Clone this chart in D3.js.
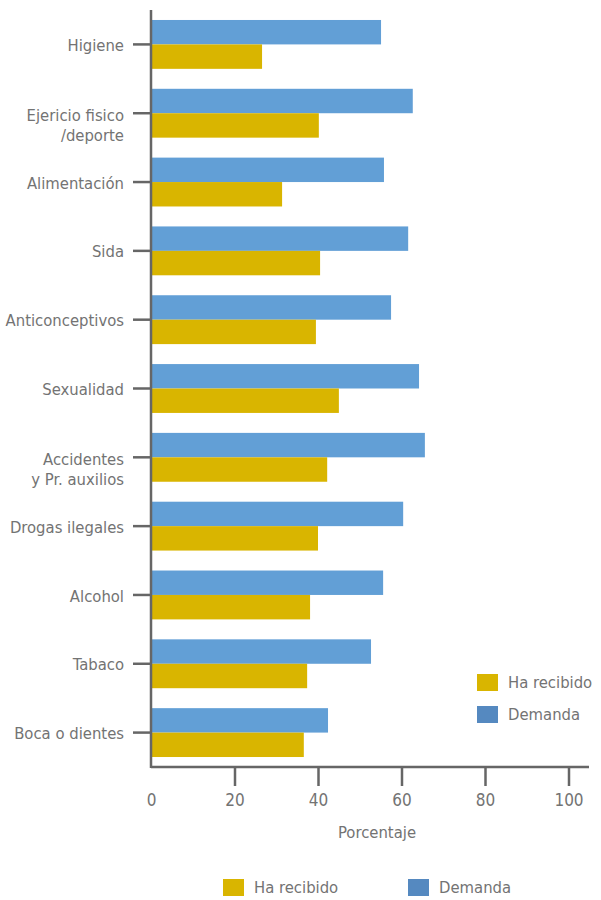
<!DOCTYPE html>
<html>
<head>
<meta charset="utf-8">
<script src="https://cdn.jsdelivr.net/npm/d3@7"></script>
<style>
  html, body { margin: 0; padding: 0; background: #fff; }
  svg text { font-family: "Liberation Sans Narrow", "DejaVu Sans Condensed", "Roboto", sans-serif; fill: #737373; }
</style>
</head>
<body>
<div id="chart"></div>
<script>
// Temas de salud: información recibida frente a demanda (%)
const categories = [
  "Higiene",
  "Ejericio fisico\n/deporte",
  "Alimentación",
  "Sida",
  "Anticonceptivos",
  "Sexualidad",
  "Accidentes\ny Pr. auxilios",
  "Drogas ilegales",
  "Alcohol",
  "Tabaco",
  "Boca o dientes"
];
const demanda    = [55.1, 62.7, 55.8, 61.6, 57.5, 64.2, 65.6, 60.4, 55.6, 52.7, 42.4];
const haRecibido = [26.6, 40.2, 31.4, 40.5, 39.5, 45.0, 42.2, 40.0, 38.1, 37.4, 36.6];
const xTicks = [0, 20, 40, 60, 80, 100];
const seriesNames = ["Demanda", "Ha recibido"];

const W = 601, H = 900;
const mLeft = 151, mRight = 568.5, mTop = 10, mBottom = 767;
const colors = { "Demanda": "#629fd6", "Ha recibido": "#d9b500" };
const legendColors = { "Demanda": "#5589c0", "Ha recibido": "#d9b500" };
const axisColor = "#666";
const fs = 16.5;

const svg = d3.select("#chart").append("svg")
  .attr("width", W).attr("height", H);

const x = d3.scaleLinear().domain([0, 100]).range([mLeft, mRight]);
const y = d3.scaleBand().domain(categories).range([mTop, mBottom])
  .paddingInner(0.29).paddingOuter(0.145);
const ySub = d3.scaleBand().domain(seriesNames).range([0, y.bandwidth()]);

const rows = categories.map((c, i) => ({ cat: c, "Demanda": demanda[i], "Ha recibido": haRecibido[i] }));

// Bars
const groups = svg.append("g").selectAll("g").data(rows).join("g")
  .attr("transform", d => `translate(0,${y(d.cat)})`);
groups.selectAll("rect").data(d => seriesNames.map(s => ({ s, v: d[s] }))).join("rect")
  .attr("x", x(0))
  .attr("y", d => ySub(d.s))
  .attr("width", d => x(d.v) - x(0))
  .attr("height", ySub.bandwidth())
  .attr("fill", d => colors[d.s]);

// X axis
const xAxis = svg.append("g").attr("transform", `translate(0,${mBottom})`)
  .call(d3.axisBottom(x).tickValues(xTicks).tickSize(19).tickPadding(8).tickSizeOuter(0));
xAxis.select(".domain").attr("d", `M${mLeft},0H589`).attr("stroke", axisColor).attr("stroke-width", 2.5);
xAxis.selectAll(".tick line").attr("stroke", axisColor).attr("stroke-width", 2.5)
  .filter(d => d === 0).remove();
xAxis.selectAll(".tick text").attr("font-size", fs + 0.5).attr("fill", "#737373")
  .style("font-family", "'Liberation Sans Narrow', 'DejaVu Sans Condensed', sans-serif");

svg.append("text").attr("x", 377).attr("y", 838).attr("text-anchor", "middle")
  .attr("font-size", fs).text("Porcentaje");

// Y axis
const yAxis = svg.append("g").attr("transform", `translate(${mLeft},0)`)
  .call(d3.axisLeft(y).tickSize(18).tickPadding(8).tickSizeOuter(0).tickFormat(""));
yAxis.select(".domain").attr("d", `M0,${mTop}V${mBottom + 1}`).attr("stroke", axisColor).attr("stroke-width", 2.5);
yAxis.selectAll(".tick line").attr("stroke", axisColor).attr("stroke-width", 2.5);
yAxis.selectAll(".tick").each(function(d) {
  const lines = d.split("\n");
  const t = d3.select(this).append("text")
    .attr("x", -27).attr("text-anchor", "end").attr("font-size", fs);
  lines.forEach((ln, i) => {
    t.append("tspan").attr("x", -27)
      .attr("dy", i === 0 ? (lines.length > 1 ? "0.45em" : "0.4em") : "1.25em")
      .text(ln);
  });
});

// Legends
function legend(g, items, positions, sw, sh) {
  items.forEach((s, i) => {
    const p = positions[i];
    g.append("rect").attr("x", p[0]).attr("y", p[1]).attr("width", sw).attr("height", sh)
      .attr("fill", legendColors[s]);
    g.append("text").attr("x", p[0] + sw + 10).attr("y", p[1] + sh / 2).attr("dy", "0.36em")
      .attr("font-size", fs).text(s);
  });
}
legend(svg.append("g"), ["Ha recibido", "Demanda"], [[477, 674], [477, 706]], 21, 17);
legend(svg.append("g"), ["Ha recibido", "Demanda"], [[223, 879], [408, 879]], 21, 17);
</script>
</body>
</html>
